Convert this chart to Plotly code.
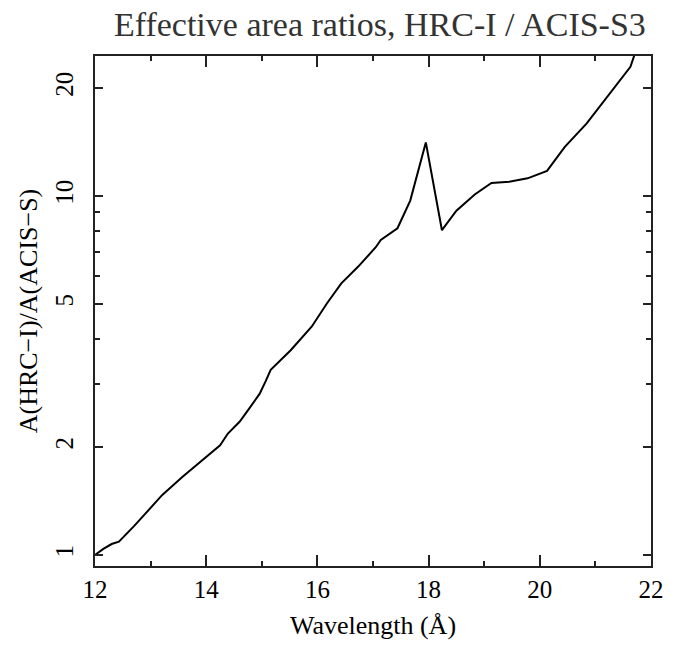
import plotly.graph_objects as go

wavelength = [12.0, 12.15, 12.30, 12.43, 12.71, 13.21, 13.57, 13.86, 14.07, 14.25, 14.39,
              14.60, 14.75, 14.96, 15.07, 15.16, 15.52, 15.90, 16.17, 16.43, 16.73, 17.05,
              17.14, 17.44, 17.67, 17.95, 18.24, 18.50, 18.83, 19.13, 19.45, 19.78, 20.13,
              20.45, 20.84, 21.22, 21.63, 21.75]
ratio = [1.0, 1.04, 1.073, 1.089, 1.207, 1.47, 1.65, 1.80, 1.91, 2.02, 2.18,
         2.35, 2.53, 2.81, 3.05, 3.28, 3.72, 4.33, 5.02, 5.71, 6.35, 7.2,
         7.54, 8.13, 9.71, 14.1, 8.03, 9.10, 10.1, 10.87, 10.96, 11.2, 11.75,
         13.7, 15.9, 18.9, 22.9, 26.0]

x_ticks = [12, 14, 16, 18, 20, 22]
x_minor = [13, 15, 17, 19, 21]
y_ticks = [1, 2, 5, 10, 20]
y_minor = [3, 4, 6, 7, 8, 9]

FONT = "Liberation Serif, Times New Roman, serif"

fig = go.Figure()
fig.add_trace(go.Scatter(x=wavelength, y=ratio, mode="lines",
                         line=dict(color="black", width=2), showlegend=False))

fig.update_layout(
    width=676, height=647, autosize=False,
    margin=dict(l=95, r=17, t=56, b=81),
    paper_bgcolor="white", plot_bgcolor="white",
    font=dict(family=FONT, color="black", size=25),
    title=dict(text="Effective area ratios, HRC-I / ACIS-S3",
               font=dict(family=FONT, size=34, color="#333333"),
               x=0.562, xref="container", xanchor="center",
               y=0.962, yref="container", yanchor="middle"),
)

fig.update_xaxes(
    range=[12, 22], tickvals=x_ticks, ticktext=[str(v) for v in x_ticks],
    ticks="inside", ticklen=11, tickwidth=1.5, tickcolor="#222",
    minor=dict(tickvals=x_minor, ticks="inside", ticklen=5, tickwidth=1.5, tickcolor="#222"),
    showline=True, linecolor="#222", linewidth=1.5, mirror="ticks",
    showgrid=False, zeroline=False,
    tickfont=dict(size=25),
    title=dict(text="Wavelength (Å)", font=dict(size=26), standoff=14),
)
fig.update_yaxes(
    type="log", range=[-0.0306, 1.390],
    tickvals=y_ticks, ticktext=[str(v) for v in y_ticks],
    tickangle=-90,
    ticks="inside", ticklen=8, tickwidth=1.5, tickcolor="#222",
    minor=dict(tickvals=y_minor, ticks="inside", ticklen=5, tickwidth=1.5, tickcolor="#222"),
    showline=True, linecolor="#222", linewidth=1.5, mirror="ticks",
    showgrid=False, zeroline=False,
    tickfont=dict(size=25),
    ticklabelstandoff=10,
    title=dict(text="A(HRC\u2212I)/A(ACIS\u2212S)", font=dict(size=26), standoff=6),
)

fig.write_html("out.html")
